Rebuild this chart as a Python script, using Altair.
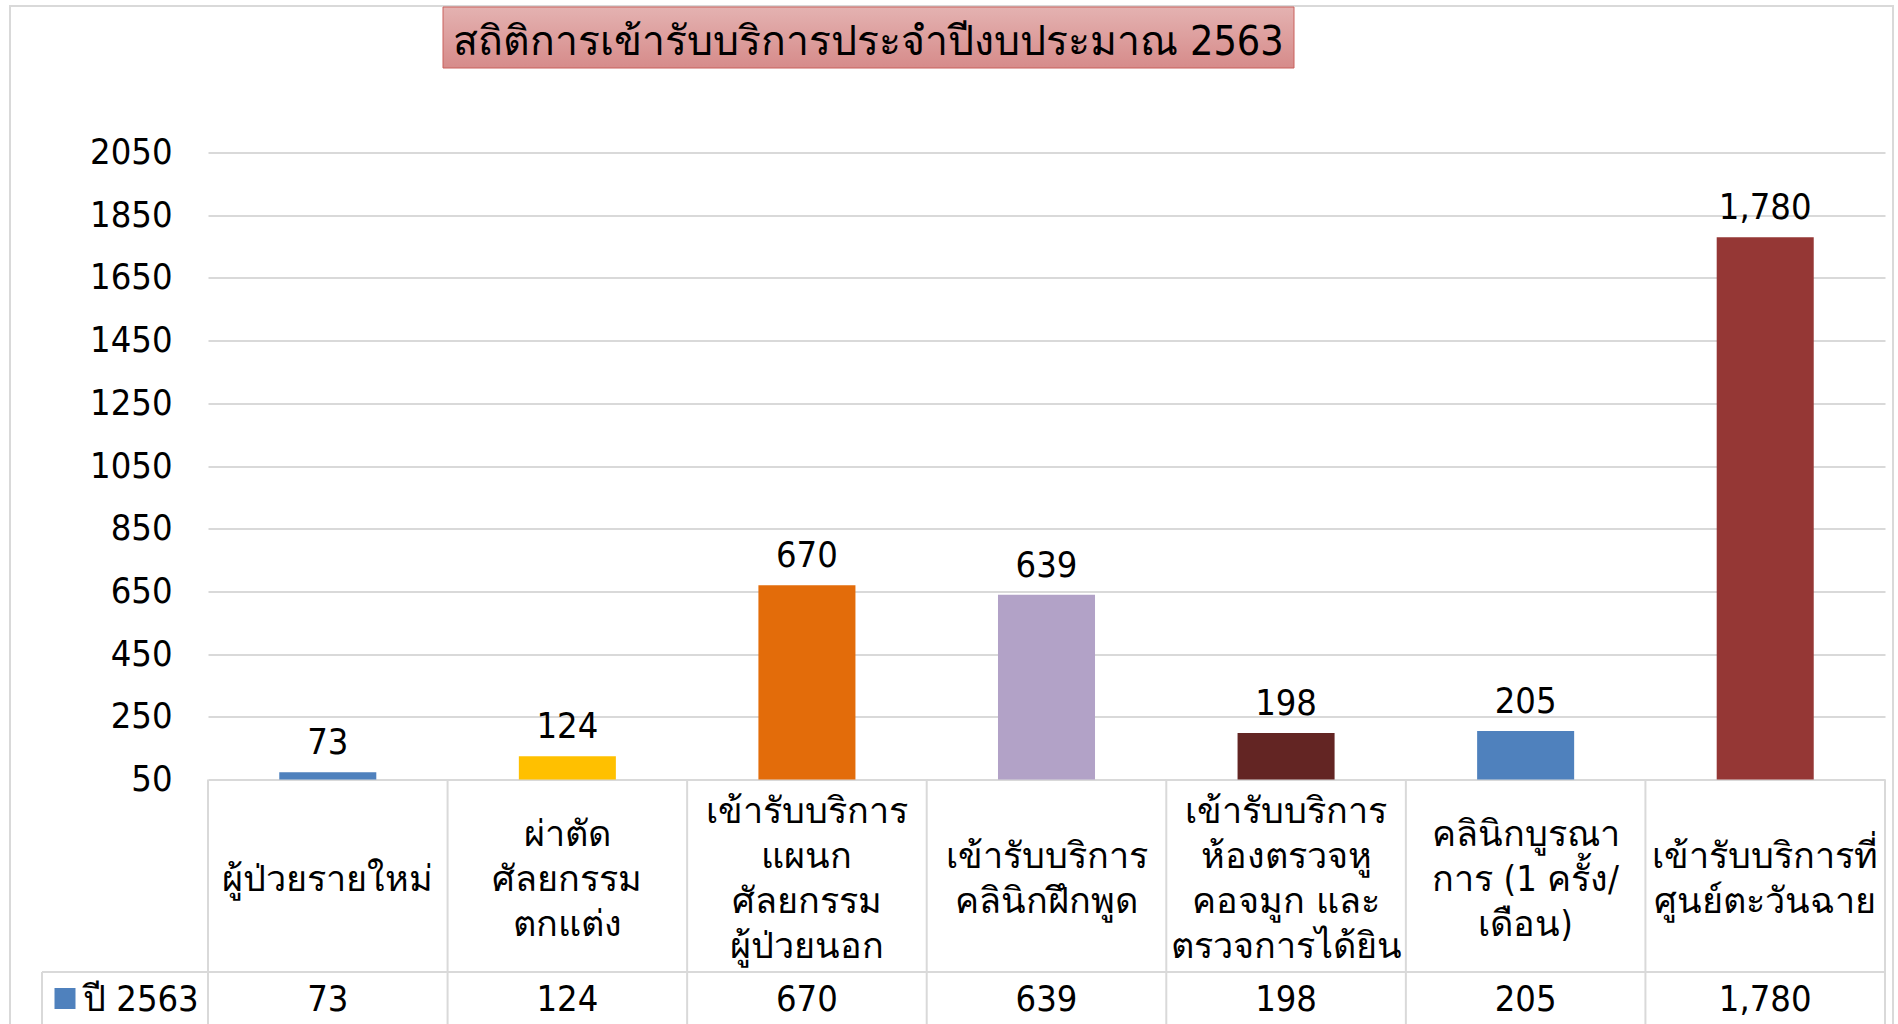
import altair as alt
import pandas as pd

# ---------------- data ----------------
categories = [
    "ผู้ป่วยรายใหม่",
    "ผ่าตัดศัลยกรรมตกแต่ง",
    "เข้ารับบริการแผนกศัลยกรรมผู้ป่วยนอก",
    "เข้ารับบริการคลินิกฝึกพูด",
    "เข้ารับบริการห้องตรวจหูคอจมูก และตรวจการได้ยิน",
    "คลินิกบูรณาการ (1 ครั้ง/เดือน)",
    "เข้ารับบริการที่ศูนย์ตะวันฉาย",
]
table_labels = [
    "ผู้ป่วยรายใหม่",
    "ผ่าตัด\nศัลยกรรม\nตกแต่ง",
    "เข้ารับบริการ\nแผนก\nศัลยกรรม\nผู้ป่วยนอก",
    "เข้ารับบริการ\nคลินิกฝึกพูด",
    "เข้ารับบริการ\nห้องตรวจหู\nคอจมูก และ\nตรวจการได้ยิน",
    "คลินิกบูรณา\nการ (1 ครั้ง/\nเดือน)",
    "เข้ารับบริการที่\nศูนย์ตะวันฉาย",
]
values = [73, 124, 670, 639, 198, 205, 1780]
bar_colors = ["#4F81BD", "#FFC000", "#E36C0A", "#B2A2C7", "#632523", "#4F81BD", "#953735"]
y_ticks = [50, 250, 450, 650, 850, 1050, 1250, 1450, 1650, 1850, 2050]
series_name = "ปี 2563"
legend_color = "#4F81BD"
title_text = "สถิติการเข้ารับบริการประจำปีงบประมาณ 2563"

# ---------------- layout ----------------
FONT = "Tahoma, 'DejaVu Sans Condensed', 'DejaVu Sans', sans-serif"
W, H = 1677, 627
PAD_L, PAD_T = 208, 152.5
GRID = "#D9D9D9"
FS = 36
LH = 45

df = pd.DataFrame({"category": categories, "label": table_labels, "value": values})
one = pd.DataFrame({"title": [title_text], "series": [series_name]})

xenc = alt.X("category:N", sort=categories,
             scale=alt.Scale(paddingInner=0, paddingOuter=0), axis=None)
yenc = alt.Y("value:Q",
             scale=alt.Scale(domain=[y_ticks[0], y_ticks[-1]], zero=False, nice=False),
             axis=alt.Axis(values=y_ticks, title=None, labelFontSize=FS, labelFont=FONT,
                           labelColor="black", labelPadding=36, domain=False, ticks=False,
                           grid=True, gridColor=GRID, gridWidth=2, format="d"))

base = alt.Chart(df)

bars = base.mark_bar(width={"band": 0.405}).encode(
    x=xenc, y=yenc, y2=alt.datum(y_ticks[0]),
    color=alt.Color("category:N", scale=alt.Scale(domain=categories, range=bar_colors), legend=None),
)
bar_labels = base.mark_text(dy=-10, baseline="bottom", fontSize=FS, font=FONT, color="black").encode(
    x=xenc, y=alt.Y("value:Q"), text=alt.Text("value:Q", format=","),
)

# table
v_lines = base.mark_rule(color=GRID, strokeWidth=2).encode(
    x=alt.X("category:N", sort=categories, bandPosition=0,
            scale=alt.Scale(paddingInner=0, paddingOuter=0), axis=None),
    y=alt.value(H), y2=alt.value(H + 300),
)
right_line = alt.Chart(one).mark_rule(color=GRID, strokeWidth=2).encode(
    x=alt.value(W), y=alt.value(H), y2=alt.value(H + 300))
row_line = alt.Chart(one).mark_rule(color=GRID, strokeWidth=2).encode(
    x=alt.value(-166), x2=alt.value(W), y=alt.value(819.5))
legend_left = alt.Chart(one).mark_rule(color=GRID, strokeWidth=2).encode(
    x=alt.value(-166), y=alt.value(819.5), y2=alt.value(H + 300))

cat_text = base.transform_calculate(
    nlines="length(split(datum.label, '\\n'))",
    off=f"-(datum.nlines - 1) / 2 * {LH}",
).mark_text(baseline="middle", lineBreak="\n", lineHeight=LH,
            fontSize=FS, font=FONT, color="black").encode(
    x=xenc, y=alt.value(727), yOffset=alt.YOffset("off:Q", scale=None), text="label:N")
val_text = base.mark_text(baseline="middle", fontSize=FS, font=FONT, color="black").encode(
    x=xenc, y=alt.value(847.5), text=alt.Text("value:Q", format=","))

legend_sq = alt.Chart(one).mark_point(shape="square", filled=True, size=441, opacity=1,
                                       color=legend_color).encode(
    x=alt.value(-143), y=alt.value(846))
legend_txt = alt.Chart(one).mark_text(align="left", baseline="middle", fontSize=FS, font=FONT,
                                      color="black").encode(
    x=alt.value(-125), y=alt.value(847.5), text="series:N")

# frame + title box
border = alt.Chart(one).mark_rect(filled=False, stroke=GRID, strokeWidth=2).encode(
    x=alt.value(10 - PAD_L), x2=alt.value(1893 - PAD_L),
    y=alt.value(6 - PAD_T), y2=alt.value(1100 - PAD_T))
grad = alt.LinearGradient(
    gradient="linear",
    stops=[alt.GradientStop(color="#E4B2B1", offset=0), alt.GradientStop(color="#D68B8A", offset=1)],
    x1=0, x2=0, y1=0, y2=1)
title_box = alt.Chart(one).mark_rect(fill=grad, stroke="#C9605D", strokeWidth=1).encode(
    x=alt.value(443 - PAD_L), x2=alt.value(1294 - PAD_L),
    y=alt.value(7 - PAD_T), y2=alt.value(68 - PAD_T))
title_txt = alt.Chart(one).mark_text(align="center", baseline="middle", fontSize=41, font=FONT,
                                     color="black").encode(
    x=alt.value((443 + 1294) / 2 - PAD_L), y=alt.value(42.5 - PAD_T), text="title:N")

chart = alt.layer(
    border, title_box, title_txt, bars, bar_labels,
    v_lines, right_line, row_line, legend_left, cat_text, val_text, legend_sq, legend_txt,
).properties(
    width=W, height=H,
    autosize=alt.AutoSizeParams(type="none"),
    padding={"left": PAD_L, "top": PAD_T, "right": 1898 - PAD_L - W, "bottom": 1024 - PAD_T - H},
    background="white",
).configure_view(strokeWidth=0)

chart.save("out.html", embed_options={"renderer": "svg", "actions": False})
